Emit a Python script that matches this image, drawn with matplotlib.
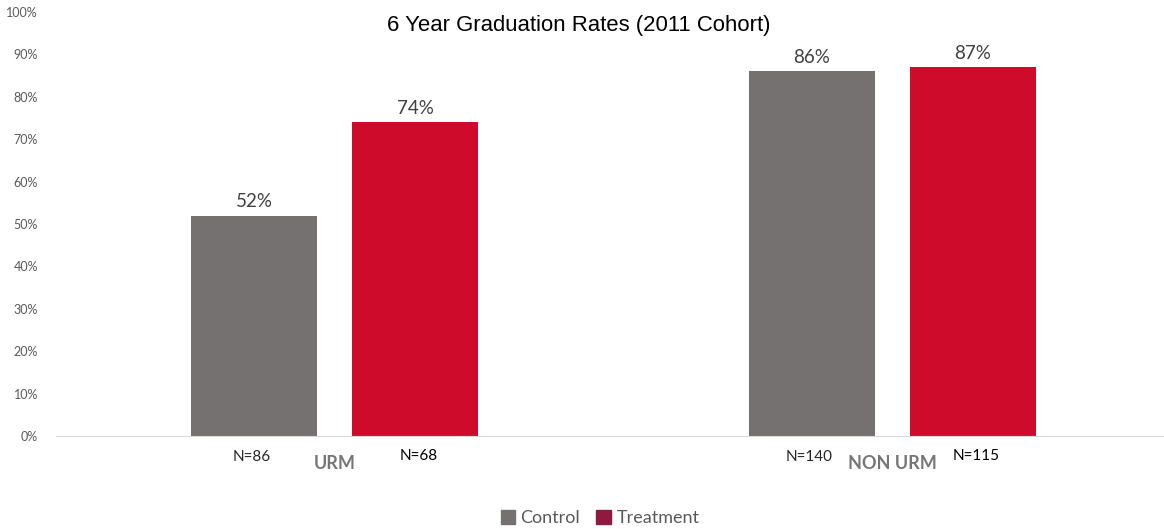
import numpy as np
import matplotlib.pyplot as plt

# data
groups = ['URM', 'NON URM']
control = [0.52, 0.86]
treatment = [0.74, 0.87]
n_control = [86, 140]
n_treatment = [68, 115]

ctrl_color = '#767171'
treat_color = '#CE0B2B'
legend_treat = '#8E1A40'

fig = plt.figure(figsize=(11.64, 5.29), dpi=100)
ax = fig.add_axes([56 / 1164, 93 / 529, 1115 / 1164, 424 / 529])

x = np.arange(len(groups))
w = 0.226
off = 0.144
b1 = ax.bar(x - off, control, w, color=ctrl_color)
b2 = ax.bar(x + off, treatment, w, color=treat_color)

# value labels on top of bars
for bars, vals in [(b1, control), (b2, treatment)]:
    for b, v in zip(bars, vals):
        ax.text(b.get_x() + b.get_width() / 2, v + 0.012, f'{v:.0%}',
                ha='center', va='bottom', fontsize=13.5, color='#404040', family='Lato')

ax.set_xlim(-0.5, 1.5)
ax.set_ylim(0, 1.0)
ax.set_yticks(np.arange(0, 1.01, 0.1))
ax.set_yticklabels([f'{int(round(t * 100))}%' for t in np.arange(0, 1.01, 0.1)],
                   fontsize=9, color='#595959', family='Lato')
ax.set_xticks([])
ax.tick_params(axis='y', length=0, pad=13)
for s in ['top', 'right', 'left']:
    ax.spines[s].set_visible(False)
ax.spines['bottom'].set_color('#D9D9D9')

# N counts and group names under the axis
trans = ax.get_xaxis_transform()
for i, g in enumerate(groups):
    ax.text(i - off - 0.005, -0.05, f'N={n_control[i]}', transform=trans,
            ha='center', va='center', fontsize=11, color='#262626', family='Lato')
    ax.text(i + off + 0.006, -0.048, f'N={n_treatment[i]}', transform=trans,
            ha='center', va='center', fontsize=11, color='#000000', family='Lato')
    ax.text(i, -0.066, g, transform=trans, ha='center', va='center',
            fontsize=13, fontweight='bold', color='#767676', family='Lato')

fig.text(579 / 1164, 1 - 25 / 529, '6 Year Graduation Rates (2011 Cohort)',
         ha='center', va='center', fontsize=15.9, color='black', family='Liberation Sans')

# legend
h1 = plt.Rectangle((0, 0), 1, 1, color=ctrl_color)
h2 = plt.Rectangle((0, 0), 1, 1, color=legend_treat)
fig.legend([h1, h2], ['Control', 'Treatment'], loc='center', bbox_to_anchor=(600 / 1164, 1 - 518 / 529),
           ncol=2, frameon=False, handlelength=0.8, handleheight=0.8, handletextpad=0.3,
           columnspacing=0.9, prop={'family': 'Lato', 'size': 13}, labelcolor='#595959')

fig.savefig('out.png', dpi=100)
